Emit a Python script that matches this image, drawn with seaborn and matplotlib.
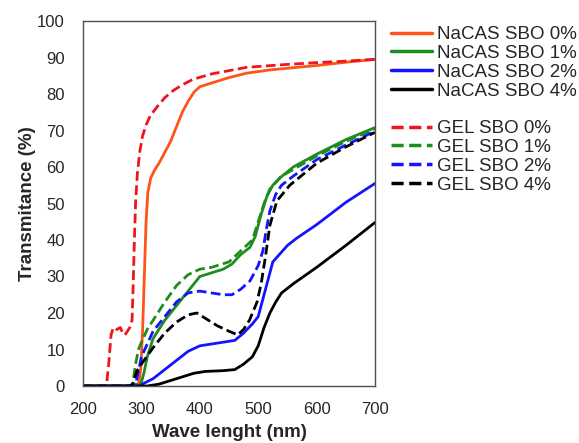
import numpy as np
import pandas as pd
import matplotlib
matplotlib.use("Agg")
import matplotlib.pyplot as plt
from matplotlib.lines import Line2D
import seaborn as sns

# ---------------- data ----------------
nacas0_x = [200, 250, 290, 296, 299, 302, 305, 308, 311, 316, 322, 330, 340, 350, 360, 370, 380, 390, 400, 420, 450, 480, 520, 560, 600, 650, 700]
nacas0_y = [0, 0, 0, 1, 5, 15, 30, 45, 53, 57, 59, 61, 64, 67, 71, 75, 78, 80.5, 82, 83, 84.5, 85.7, 86.6, 87.2, 87.8, 88.7, 89.5]

gel0_x = [200, 240, 244, 248, 252, 258, 264, 268, 272, 276, 280, 284, 286, 288, 290, 293, 297, 302, 308, 315, 327, 340, 355, 370, 388, 420, 480, 540, 600, 650, 700]
gel0_y = [0, 0, 6, 14, 16, 15.5, 16, 14.5, 14, 15, 16, 18, 28, 40, 50, 58, 64, 68.5, 71.5, 74, 76.5, 79, 81, 82.5, 84, 85.5, 87.3, 88, 88.6, 89, 89.5]

nacas1_x = [200, 280, 290, 296, 300, 305, 310, 320, 340, 360, 380, 400, 420, 440, 455, 470, 486, 495, 505, 515, 525, 537, 560, 600, 650, 700]
nacas1_y = [0, 0, 0.5, 0, 1, 4, 8, 13, 18, 22, 26, 30, 31, 32, 33.4, 36, 38, 41, 47, 52, 55, 57, 60, 63.5, 67.5, 70.8]

gel1_x = [200, 280, 285, 290, 295, 300, 310, 320, 340, 360, 380, 400, 420, 450, 470, 490, 500, 510, 520, 540, 600, 650, 700]
gel1_y = [0, 0, 0.5, 6, 10, 12, 15.5, 18, 23, 27.5, 30.5, 32, 32.5, 34, 37, 40, 45, 50, 54, 57.5, 63, 67, 70.5]

nacas2_x = [200, 285, 297, 305, 320, 340, 360, 380, 400, 420, 440, 460, 475, 490, 500, 510, 525, 550, 566, 600, 623, 650, 700]
nacas2_y = [0, 0, 0, 0.8, 2, 4.5, 7, 9.5, 11, 11.5, 12, 12.5, 14.5, 17, 19, 25, 34, 38.5, 40.5, 44.2, 47, 50.3, 55.5]

gel2_x = [200, 280, 290, 295, 300, 320, 340, 360, 380, 400, 420, 440, 455, 470, 486, 500, 508, 514, 520, 530, 540, 560, 600, 650, 700]
gel2_y = [0, 0, 0.5, 4, 8, 15, 19, 23, 25.5, 26, 25.5, 25, 25, 26.5, 28.8, 33, 37, 43, 48, 52.5, 55, 57.5, 62, 66, 69.8]

nacas4_x = [200, 310, 330, 350, 370, 390, 410, 440, 460, 475, 490, 500, 510, 520, 530, 540, 560, 600, 650, 700]
nacas4_y = [0, 0, 0.5, 1.5, 2.5, 3.5, 4, 4.2, 4.5, 6, 8, 11, 16, 20, 23, 25.5, 28, 32.5, 38.5, 44.8]

gel4_x = [200, 280, 285, 292, 300, 320, 340, 360, 380, 395, 410, 430, 450, 465, 475, 485, 498, 505, 512, 520, 532, 554, 600, 650, 700]
gel4_y = [0, 0, 0.5, 4, 6, 10.5, 14.5, 17.5, 19.5, 20, 18.5, 16.5, 15, 14, 15.5, 18, 23, 28, 35, 44, 50.7, 55, 61, 65.5, 69.5]

series_names = ["NaCAS SBO 0%", "NaCAS SBO 1%", "NaCAS SBO 2%", "NaCAS SBO 4%",
                "GEL SBO 0%", "GEL SBO 1%", "GEL SBO 2%", "GEL SBO 4%"]
series_x = [nacas0_x, nacas1_x, nacas2_x, nacas4_x, gel0_x, gel1_x, gel2_x, gel4_x]
series_y = [nacas0_y, nacas1_y, nacas2_y, nacas4_y, gel0_y, gel1_y, gel2_y, gel4_y]

x_ticks = [200, 300, 400, 500, 600, 700]
y_ticks = [0, 10, 20, 30, 40, 50, 60, 70, 80, 90, 100]

# ---------------- styling ----------------
colors = {
    "NaCAS SBO 0%": "#FF5419", "NaCAS SBO 1%": "#1E8C1E", "NaCAS SBO 2%": "#1414FF", "NaCAS SBO 4%": "#000000",
    "GEL SBO 0%": "#F0141E", "GEL SBO 1%": "#1E8C1E", "GEL SBO 2%": "#1414FF", "GEL SBO 4%": "#000000",
}
dash_map = {n: ("" if n.startswith("NaCAS") else (3.5, 1.6)) for n in series_names}

frames = []
for n, xs, ys in zip(series_names, series_x, series_y):
    frames.append(pd.DataFrame({"wl": xs, "T": ys, "series": n}))
df = pd.concat(frames, ignore_index=True)

sns.set_theme(style="white")
plt.rcParams["font.family"] = ["Liberation Sans", "DejaVu Sans"]

fig = plt.figure(figsize=(5.79, 4.43), dpi=100)
ax = fig.add_axes([83 / 579, 1 - 386 / 443, (375 - 83) / 579, (386 - 21) / 443])

sns.lineplot(data=df, x="wl", y="T", hue="series", style="series",
             hue_order=series_names, style_order=series_names,
             palette=colors, dashes=dash_map, estimator=None, sort=False,
             linewidth=2.0, legend=False, ax=ax)

ax.set_xlim(200, 700)
ax.set_ylim(0, 100)
ax.set_xticks(x_ticks)
ax.set_yticks(y_ticks)
ax.tick_params(axis="x", direction="in", length=5, width=1, color="#404040",
               labelsize=12, pad=11.5)
ax.tick_params(axis="y", direction="out", length=5, width=1, color="#404040",
               labelsize=12, pad=8)
for s in ax.spines.values():
    s.set_color("#505050")
    s.set_linewidth(1.0)
ax.set_xlabel("Wave lenght (nm)", fontsize=13.5, fontweight="bold", labelpad=5)
ax.set_ylabel("Transmitance (%)", fontsize=13.5, fontweight="bold", labelpad=1)
ax.grid(False)

handles = []
labels = []
for n in series_names[:4]:
    handles.append(Line2D([], [], color=colors[n], lw=2.5, ls="-"))
    labels.append(n)
handles.append(Line2D([], [], color="none", lw=0))
labels.append(" ")
for n in series_names[4:]:
    handles.append(Line2D([], [], color=colors[n], lw=2.5, ls=(0, (3.5, 1.6))))
    labels.append(n)

fig.legend(handles, labels, loc="upper left", bbox_to_anchor=(391 / 579, 1 - 26 / 443),
           frameon=False, fontsize=13.5, handlelength=2.2, handletextpad=0.25,
           labelspacing=0.09, borderpad=0, borderaxespad=0)

fig.savefig("out.png", dpi=100, facecolor="white")
